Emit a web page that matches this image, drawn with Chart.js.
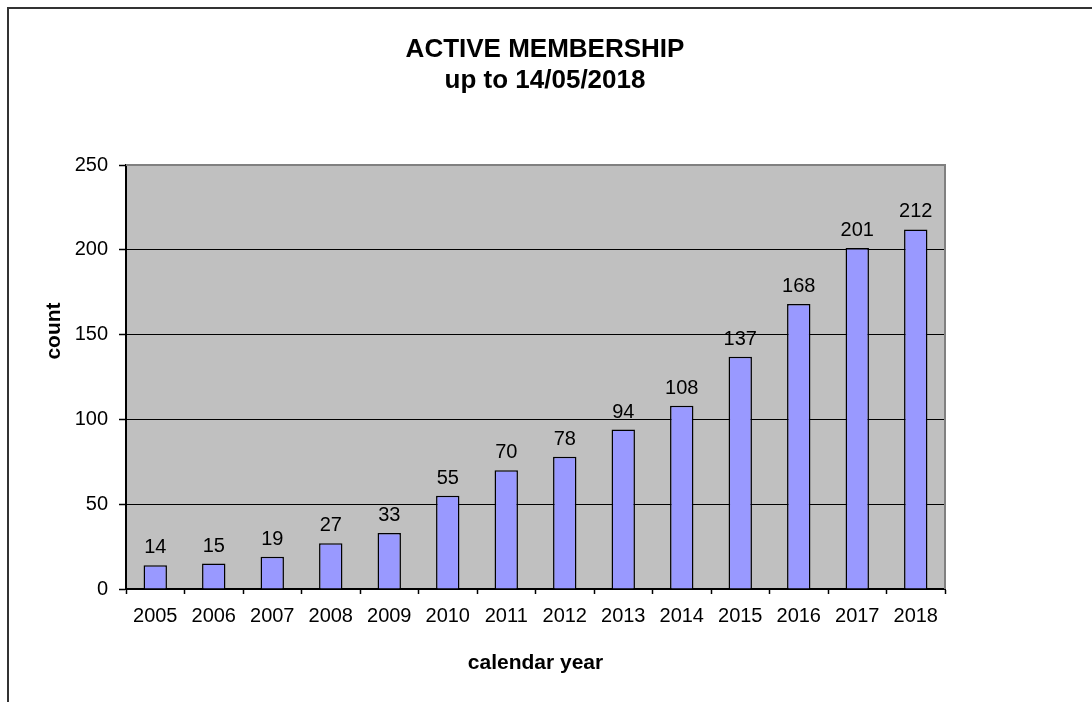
<!DOCTYPE html>
<html>
<head>
<meta charset="utf-8">
<script src="https://cdn.jsdelivr.net/npm/chart.js@4.4.1/dist/chart.umd.min.js"></script>
<style>
  body { margin: 0; background: #fff; }
  #wrap { position: relative; width: 1092px; height: 702px; overflow: hidden; }
  #frame { position: absolute; left: 7px; top: 7px; width: 1200px; height: 800px;
           border-left: 2px solid #333; border-top: 2px solid #333; pointer-events: none; }
</style>
</head>
<body>
<div id="wrap">
  <canvas id="chart"></canvas>
  <div id="frame"></div>
</div>
<script>
var years = ['2005', '2006', '2007', '2008', '2009', '2010', '2011', '2012', '2013', '2014', '2015', '2016', '2017', '2018'];
var members = [14, 15, 19, 27, 33, 55, 70, 78, 94, 108, 137, 168, 201, 212];
var titleLines = ['ACTIVE MEMBERSHIP', 'up to 14/05/2018'];
var yTitle = 'count';
var xTitle = 'calendar year';

var fontFam = '"Liberation Sans", Arial, sans-serif';

// grey plot background + top/right border
var plotBack = {
  id: 'plotBack',
  beforeDraw: function (chart) {
    var c = chart.ctx, a = chart.chartArea;
    c.save();
    c.fillStyle = '#c0c0c0';
    c.fillRect(a.left, a.top, a.right - a.left, a.bottom - a.top);
    c.restore();
  },
  afterDatasetsDraw: function (chart) {
    var c = chart.ctx, a = chart.chartArea;
    c.save();
    c.strokeStyle = '#808080';
    c.lineWidth = 2;
    c.beginPath();
    c.moveTo(a.left, a.top);
    c.lineTo(a.right, a.top);
    c.lineTo(a.right, a.bottom);
    c.stroke();
    c.restore();
  }
};

// value labels above bars, titles
var labels = {
  id: 'labels',
  afterDraw: function (chart) {
    var c = chart.ctx;
    c.save();
    c.fillStyle = '#000';
    c.textAlign = 'center';
    c.textBaseline = 'alphabetic';
    c.font = '20px ' + fontFam;
    chart.getDatasetMeta(0).data.forEach(function (bar, i) {
      c.fillText(String(members[i]), bar.x, bar.y - 12);
    });

    c.font = 'bold 26px ' + fontFam;
    c.fillText(titleLines[0], 545, 57);
    c.fillText(titleLines[1], 545, 88);

    c.font = 'bold 21px ' + fontFam;
    c.translate(60, 331);
    c.rotate(-Math.PI / 2);
    c.fillText(yTitle, 0, 0);
    c.restore();
  }
};

var ctx = document.getElementById('chart').getContext('2d');
var myChart = new Chart(ctx, {
  type: 'bar',
  data: {
    labels: years,
    datasets: [{
      label: 'members',
      data: members,
      backgroundColor: '#9999ff',
      borderColor: '#000',
      borderWidth: 1.5,
      categoryPercentage: 1,
      barPercentage: 0.4
    }]
  },
  options: {
    responsive: true,
    maintainAspectRatio: false,
    animation: false,
    layout: { padding: { left: 66, right: 147, top: 165, bottom: 0 } },
    plugins: {
      legend: { display: false },
      title: { display: false },
      tooltip: { enabled: false }
    },
    scales: {
      x: {
        offset: true,
        afterFit: function (s) { s.height = 113; },
        grid: { offset: true, drawOnChartArea: false, drawTicks: true, tickLength: 5, tickColor: '#000', tickWidth: 1.5 },
        border: { color: '#000', width: 2 },
        ticks: { color: '#000', padding: 10, font: { family: fontFam, size: 20 }, maxRotation: 0, autoSkip: false },
        title: { display: true, text: xTitle, color: '#000', font: { family: fontFam, size: 21, weight: 'bold' }, padding: { top: 0, bottom: 26 } }
      },
      y: {
        min: 0,
        max: 250,
        afterFit: function (s) { s.width = 60; },
        ticks: { stepSize: 50, color: '#000', padding: 11, font: { family: fontFam, size: 20 } },
        grid: {
          color: function (c) { return c.tick && c.tick.value === 250 ? '#808080' : '#000'; },
          lineWidth: 1,
          tickLength: 7,
          tickColor: '#000',
          tickWidth: 1.5
        },
        border: { color: '#000', width: 2 }
      }
    }
  },
  plugins: [plotBack, labels]
});
</script>
</body>
</html>
